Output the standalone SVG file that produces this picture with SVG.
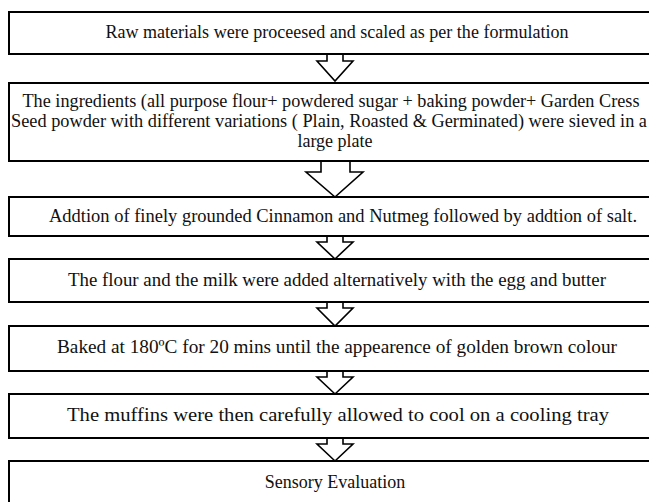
<svg xmlns="http://www.w3.org/2000/svg" width="649" height="502" viewBox="0 0 649 502">
<style>
.box{fill:#fff;stroke:#000;stroke-width:2}
.arr{fill:#fff;stroke:#000;stroke-width:1.6;stroke-linejoin:miter}
text{font-family:"Liberation Serif","Times New Roman",serif;font-size:18px;fill:#111;text-anchor:middle}
.big{font-size:19px}
</style>
<rect width="649" height="502" fill="#fff"/>
<g id="connectors">
<polygon class="arr" points="327,54 343,54 343,61 353,61 335,81 317,61 327,61"/>
<polygon class="arr" points="321,161 350,161 350,172 363,172 335,197 306,172 321,172"/>
<polygon class="arr" points="327,236 343,236 343,242 353,242 335,259 317,242 327,242"/>
<polygon class="arr" points="327,302 343,302 343,308 353,308 335,326 317,308 327,308"/>
<polygon class="arr" points="327,371 343,371 343,377 353,377 335,394 317,377 327,377"/>
<polygon class="arr" points="327,438 343,438 343,444 353,444 335,461 317,444 327,444"/>
</g>
<g id="n1"><rect class="box" x="9" y="12" width="660" height="42"/><text x="337" y="38" textLength="463" lengthAdjust="spacingAndGlyphs">Raw materials were proceesed and scaled as per the formulation</text></g>
<g id="n2"><rect class="box" x="9" y="83" width="660" height="78"/>
<text x="331" y="107" textLength="617" lengthAdjust="spacingAndGlyphs">The ingredients (all purpose flour+ powdered sugar + baking powder+ Garden Cress</text>
<text x="329" y="127" textLength="636" lengthAdjust="spacingAndGlyphs">Seed powder with different variations ( Plain, Roasted &amp; Germinated) were sieved in a</text>
<text x="335" y="147">large plate</text></g>
<g id="n3"><rect class="box" x="9" y="197" width="660" height="39"/><text class="big" x="343" y="222" textLength="588" lengthAdjust="spacingAndGlyphs">Addtion of finely grounded Cinnamon and Nutmeg followed by addtion of salt.</text></g>
<g id="n4"><rect class="box" x="9" y="259" width="660" height="43"/><text class="big" x="337" y="286" textLength="538" lengthAdjust="spacingAndGlyphs">The flour and the milk were added alternatively with the egg and butter</text></g>
<g id="n5"><rect class="box" x="9" y="326" width="660" height="45"/><text class="big" x="337" y="353" textLength="560" lengthAdjust="spacingAndGlyphs">Baked at 180ºC for 20 mins until the appearence of golden brown colour</text></g>
<g id="n6"><rect class="box" x="9" y="394" width="660" height="44"/><text class="big" x="338" y="421" textLength="542" lengthAdjust="spacingAndGlyphs">The muffins were then carefully allowed to cool on a cooling tray</text></g>
<g id="n7"><rect class="box" x="9" y="461" width="660" height="60"/><text x="335" y="488">Sensory Evaluation</text></g>
</svg>
